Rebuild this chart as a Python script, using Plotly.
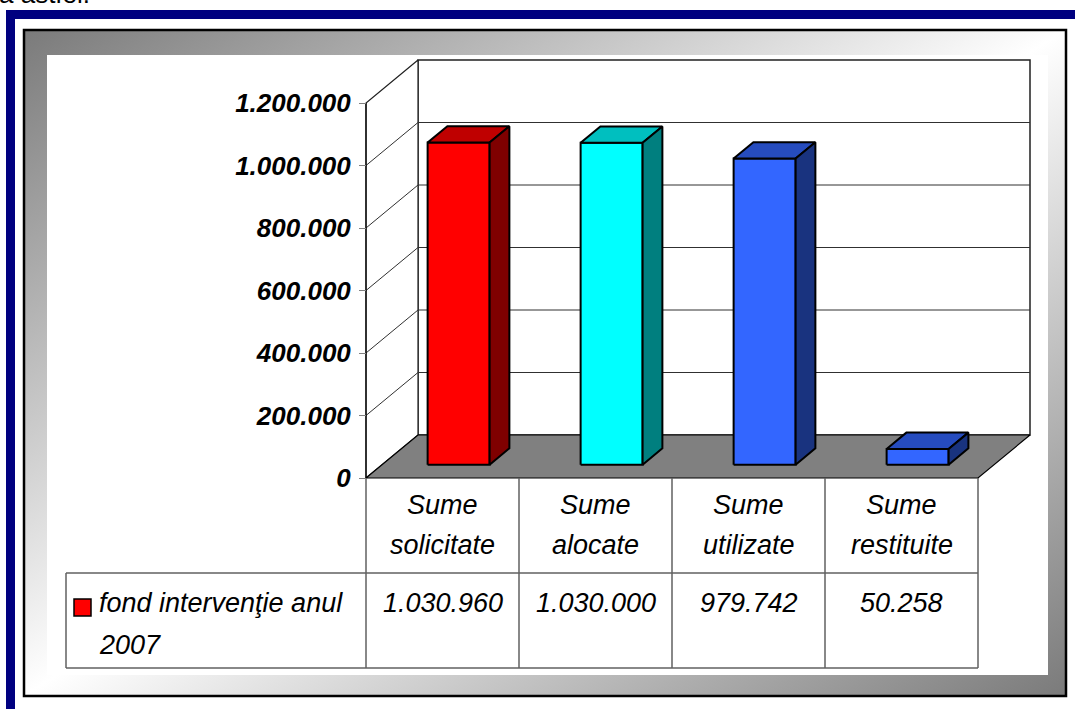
import base64
import plotly.graph_objects as go

# ---------------- data ----------------
categories = ["Sume solicitate", "Sume alocate", "Sume utilizate", "Sume restituite"]
values = [1030960, 1030000, 979742, 50258]
series_name = "fond intervenţie anul 2007"
bar_colors = ["#FF0000", "#00FFFF", "#3366FF", "#3366FF"]
y_ticks = [0, 200000, 400000, 600000, 800000, 1000000, 1200000]

# ---------------- geometry ----------------
W, H = 1075, 709
FONT = "Liberation Sans, Arial, sans-serif"
PX0, PXC = 366, 153          # front-plane x of first category, px per category
PY0, PYMAX = 478, 103        # front-plane y of 0 and of max
VMAX = y_ticks[-1]
VPP = VMAX / (PY0 - PYMAX)   # value units per pixel
DXC = 52 / PXC               # full depth, category units
DYV = 43 * VPP               # full depth, value units
Z0, Z1 = 0.31, 0.69          # bar depth span
BW = 62 / PXC                # bar width in category units


def cx(px):
    return (px - PX0) / PXC


def vy(py):
    return (PY0 - py) * VPP


def fx(px):
    return px / W


def fy(py):
    return 1 - py / H


def P(x, v, z):
    return (x + z * DXC, v + z * DYV)


def shade(hexc, f):
    h = hexc.lstrip("#")
    r, g, b = (int(h[i:i + 2], 16) for i in (0, 2, 4))
    return "#%02X%02X%02X" % (int(r * f), int(g * f), int(b * f))


def poly(pts, fill, line="black", width=1.5):
    xs = [p[0] for p in pts] + [pts[0][0]]
    ys = [p[1] for p in pts] + [pts[0][1]]
    return go.Scatter(x=xs, y=ys, mode="lines", fill="toself", fillcolor=fill,
                      line=dict(color=line, width=width), hoverinfo="skip",
                      showlegend=False)


def lines(segs, color, width):
    xs, ys = [], []
    for seg in segs:
        for p in seg:
            xs.append(p[0])
            ys.append(p[1])
        xs.append(None)
        ys.append(None)
    return go.Scatter(x=xs, y=ys, mode="lines", line=dict(color=color, width=width),
                      hoverinfo="skip", showlegend=False)


n = len(categories)
fig = go.Figure()

# walls
fig.add_trace(poly([P(0, 0, 1), P(n, 0, 1), P(n, VMAX, 1), P(0, VMAX, 1)], "white", "#202020", 1.5))
fig.add_trace(poly([P(0, 0, 0), P(0, VMAX, 0), P(0, VMAX, 1), P(0, 0, 1)], "white", "#202020", 1.2))
# gridlines
fig.add_trace(lines([[P(0, t, 0), P(0, t, 1), P(n, t, 1)] for t in y_ticks[1:-1]], "#303030", 1))
# floor
fig.add_trace(poly([P(0, 0, 0), P(n, 0, 0), P(n, 0, 1), P(0, 0, 1)], "#808080", "black", 1.2))
# front axis line
fig.add_trace(lines([[P(0, 0, 0), P(0, VMAX, 0)]], "black", 1.2))

# bars
for i, (v, col) in enumerate(zip(values, bar_colors)):
    c = i + 0.5
    xl, xr = c - BW / 2, c + BW / 2
    fig.add_trace(poly([P(xl, 0, Z0), P(xr, 0, Z0), P(xr, v, Z0), P(xl, v, Z0)], col, "black", 2))
    fig.add_trace(poly([P(xl, v, Z0), P(xr, v, Z0), P(xr, v, Z1), P(xl, v, Z1)], shade(col, 0.75), "black", 2))
    fig.add_trace(poly([P(xr, 0, Z0), P(xr, 0, Z1), P(xr, v, Z1), P(xr, v, Z0)], shade(col, 0.5), "black", 2))

# data table lines
tbl = []
for k in range(n + 1):
    tbl.append([(k, vy(478)), (k, vy(668))])
tbl.append([(cx(66), vy(573)), (n, vy(573))])
tbl.append([(cx(66), vy(668)), (n, vy(668))])
tbl.append([(cx(66), vy(573)), (cx(66), vy(668))])
fig.add_trace(lines(tbl, "#606060", 1.5))

# dummy trace for tick axis
fig.add_trace(go.Scatter(x=[None], y=[None], yaxis="y2", showlegend=False, hoverinfo="skip"))

ann = []
ifont = dict(family=FONT, size=27, color="black", style="italic")
for i, cat in enumerate(categories):
    w1, w2 = cat.split(" ", 1)
    ann.append(dict(x=i + 0.5, y=vy(505), text=w1, showarrow=False, font=ifont,
                    xanchor="center", yanchor="middle"))
    ann.append(dict(x=i + 0.5, y=vy(545), text=w2, showarrow=False, font=ifont,
                    xanchor="center", yanchor="middle"))
    ann.append(dict(x=i + 0.5, y=vy(603), text=f"{values[i]:,}".replace(",", "."),
                    showarrow=False, font=ifont, xanchor="center", yanchor="middle"))
s1, s2 = series_name.rsplit(" ", 1)
ann.append(dict(x=cx(97), y=vy(603), text=s1, showarrow=False, font=ifont,
                xanchor="left", yanchor="middle"))
ann.append(dict(x=cx(97), y=vy(645), text=s2, showarrow=False, font=ifont,
                xanchor="left", yanchor="middle"))
# page text above the chart (cut off)
ann.append(dict(x=fx(-3), y=fy(11), xref="paper", yref="paper", text="a astfel.",
                showarrow=False, font=dict(family=FONT, size=26, color="black"),
                xanchor="left", yanchor="bottom"))

# gradient frame image
svg = ("<svg xmlns='http://www.w3.org/2000/svg' width='1044' height='668' viewBox='0 0 1044 668' "
       "preserveAspectRatio='none'><defs><linearGradient id='g' x1='0' y1='0' x2='1' y2='1'>"
       "<stop offset='0' stop-color='#7a7a7a'/><stop offset='0.5' stop-color='#ffffff'/>"
       "<stop offset='1' stop-color='#7a7a7a'/></linearGradient></defs>"
       "<rect width='1044' height='668' fill='url(#g)'/></svg>")
src = "data:image/svg+xml;base64," + base64.b64encode(svg.encode()).decode()
images = [dict(source=src, xref="paper", yref="paper", x=fx(23), y=fy(29),
               sizex=fx(1067) - fx(23), sizey=fy(29) - fy(697), sizing="stretch",
               xanchor="left", yanchor="top", layer="below")]

shapes = [
    dict(type="rect", xref="paper", yref="paper", x0=fx(47), x1=fx(1048), y0=fy(675), y1=fy(55),
         fillcolor="white", line=dict(width=0), layer="below"),
    dict(type="rect", xref="paper", yref="paper", x0=fx(24), x1=fx(1066), y0=fy(696), y1=fy(30),
         fillcolor="rgba(0,0,0,0)", line=dict(color="black", width=2.5), layer="below"),
    dict(type="rect", xref="paper", yref="paper", x0=fx(6), x1=fx(15), y0=fy(712), y1=fy(10),
         fillcolor="#000080", line=dict(width=0), layer="below"),
    dict(type="rect", xref="paper", yref="paper", x0=fx(6), x1=fx(1078), y0=fy(19), y1=fy(10),
         fillcolor="#000080", line=dict(width=0), layer="below"),
    # legend key
    dict(type="rect", xref="x", yref="y", x0=cx(74), x1=cx(91), y0=vy(616), y1=vy(599),
         fillcolor=bar_colors[0], line=dict(color="black", width=1.5), layer="above"),
]

xr = [cx(0), cx(W)]
yr = [vy(H), vy(0)]
fig.update_layout(
    width=W, height=H, autosize=False,
    margin=dict(l=0, r=0, t=0, b=0, pad=0),
    paper_bgcolor="white", plot_bgcolor="rgba(0,0,0,0)",
    separators=",.",
    xaxis=dict(range=xr, visible=False, fixedrange=True),
    yaxis=dict(range=yr, visible=False, fixedrange=True),
    yaxis2=dict(range=yr, overlaying="y", anchor="free", position=PX0 / W, side="left",
                tickvals=y_ticks, tickformat=",d", ticks="outside", ticklen=7,
                tickwidth=1, tickcolor="#808080", showline=False, showgrid=False,
                zeroline=False, fixedrange=True, automargin=False, ticklabelstandoff=3,
                tickfont=dict(family=FONT, size=26, color="black", weight="bold", style="italic")),
    annotations=ann, shapes=shapes, images=images,
    showlegend=False,
)

fig.write_html("out.html")
